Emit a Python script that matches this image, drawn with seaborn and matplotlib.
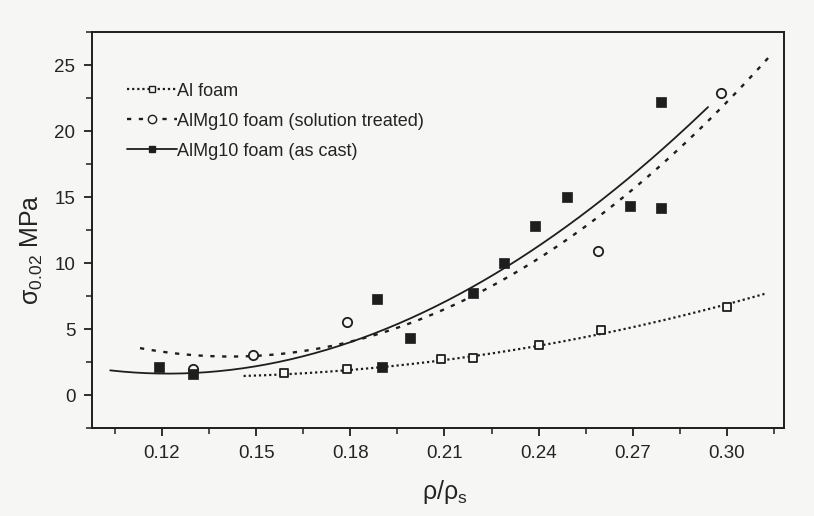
import numpy as np
import pandas as pd
import matplotlib
matplotlib.use("Agg")
import matplotlib.pyplot as plt
from matplotlib.lines import Line2D
from matplotlib.ticker import MultipleLocator
import seaborn as sns

# Measured yield strength sigma_0.02 versus relative density
al_x = [0.159, 0.179, 0.209, 0.219, 0.240, 0.260, 0.300]
al_y = [1.7, 2.0, 2.7, 2.8, 3.8, 4.9, 6.7]

treated_x = [0.130, 0.149, 0.179, 0.259, 0.298]
treated_y = [2.0, 3.0, 5.5, 10.9, 22.9]

cast_x = [0.119, 0.130, 0.1885, 0.190, 0.199, 0.219, 0.229, 0.239, 0.249, 0.269, 0.279, 0.279]
cast_y = [2.1, 1.6, 7.3, 2.1, 4.3, 7.7, 10.0, 12.8, 15.0, 14.3, 14.2, 22.2]

# Trend curves
al_curve_x = [0.146, 0.179, 0.219, 0.260, 0.312]
al_curve_y = [1.4, 2.0, 2.8, 4.7, 7.65]
treated_curve_x = [0.113, 0.149, 0.175, 0.228, 0.265, 0.296, 0.314]
treated_curve_y = [3.5, 3.0, 3.8, 8.7, 14.5, 21.1, 25.9]
cast_curve_x = [0.1035, 0.130, 0.175, 0.220, 0.260, 0.294]
cast_curve_y = [1.85, 1.7, 3.6, 8.3, 14.8, 21.8]

x_ticks = [0.12, 0.15, 0.18, 0.21, 0.24, 0.27, 0.30]
x_tick_labels = ["0.12", "0.15", "0.18", "0.21", "0.24", "0.27", "0.30"]
y_ticks = [0, 5, 10, 15, 20, 25]
y_tick_labels = ["0", "5", "10", "15", "20", "25"]

labels = ["Al foam", "AlMg10 foam (solution treated)", "AlMg10 foam (as cast)"]

sns.set_theme(style="ticks")
plt.rcParams["font.family"] = ["Liberation Sans", "DejaVu Sans"]
plt.rcParams["mathtext.fontset"] = "custom"
plt.rcParams["mathtext.rm"] = "Liberation Sans"
plt.rcParams["mathtext.it"] = "Liberation Sans"
plt.rcParams["mathtext.bf"] = "Liberation Sans:bold"

ink = "#1e1e1e"
text_ink = "#242424"
paper = "#f6f6f4"

fig = plt.figure(figsize=(8.14, 5.16), dpi=100, facecolor=paper)
ax = fig.add_axes([92 / 814, (516 - 428) / 516, (784 - 92) / 814, (428 - 32) / 516])
ax.set_facecolor(paper)


def trend(cx, cy, deg):
    coef = np.polyfit(cx, cy, deg)
    xs = np.linspace(min(cx), max(cx), 200)
    return pd.DataFrame({"x": xs, "y": np.polyval(coef, xs)})


al_line = trend(al_curve_x, al_curve_y, 2)
tr_line = trend(treated_curve_x, treated_curve_y, 2)
ca_line = trend(cast_curve_x, cast_curve_y, 3)

al_style = (0, (1.0, 1.3))
tr_style = (0, (1.8, 3.2))

sns.lineplot(data=al_line, x="x", y="y", ax=ax, color=ink, lw=1.6,
             linestyle=al_style, sort=False)
sns.lineplot(data=tr_line, x="x", y="y", ax=ax, color=ink, lw=1.7,
             linestyle=tr_style, sort=False)
sns.lineplot(data=ca_line, x="x", y="y", ax=ax, color=ink, lw=1.3, sort=False)

sns.scatterplot(x=al_x, y=al_y, ax=ax, marker="s", s=38,
                facecolor=paper, edgecolor=ink, linewidth=1.3, zorder=4)
sns.scatterplot(x=treated_x, y=treated_y, ax=ax, marker="o", s=45,
                facecolor=paper, edgecolor=ink, linewidth=1.3, zorder=4)
sns.scatterplot(x=cast_x, y=cast_y, ax=ax, marker="s", s=42,
                color=ink, edgecolor=ink, linewidth=0.5, zorder=5)

ax.set_xlim(0.0977, 0.3182)
ax.set_ylim(-2.5, 27.5)
ax.set_xticks(x_ticks)
ax.set_xticklabels(x_tick_labels)
ax.set_yticks(y_ticks)
ax.set_yticklabels(y_tick_labels)
ax.xaxis.set_minor_locator(MultipleLocator(0.015))
ax.yaxis.set_minor_locator(MultipleLocator(2.5))

ax.tick_params(which="major", direction="out", length=6, width=1.3,
               color=ink, labelsize=13.5, labelcolor=text_ink, pad=6)
ax.tick_params(which="minor", direction="out", length=4, width=1.1, color=ink)
for sp in ax.spines.values():
    sp.set_visible(True)
    sp.set_color(ink)
    sp.set_linewidth(1.4)

ax.set_xlabel(r"ρ/ρ$_\mathregular{s}$", fontsize=18, color=text_ink)
ax.xaxis.set_label_coords(0.51, -0.125)
ax.set_ylabel(r"σ$_\mathregular{0.02}$ MPa", fontsize=18, color=text_ink)
ax.yaxis.set_label_coords(-0.068, 0.45)

handles = [
    Line2D([], [], color=ink, lw=1.6, linestyle=al_style, marker="s",
           markersize=4, markerfacecolor=paper, markeredgecolor=ink),
    Line2D([], [], color=ink, lw=1.7, linestyle=tr_style, marker="o",
           markersize=6, markerfacecolor=paper, markeredgecolor=ink),
    Line2D([], [], color=ink, lw=1.3, marker="s", markersize=5,
           markerfacecolor=ink, markeredgecolor=ink),
]
leg = ax.legend(handles, labels, loc="upper left", bbox_to_anchor=(0.037, 0.895),
                frameon=False, fontsize=13, handlelength=2.8, handletextpad=0.0,
                labelspacing=0.72, borderpad=0, labelcolor=text_ink)

fig.savefig("out.png", dpi=100, facecolor=paper)
